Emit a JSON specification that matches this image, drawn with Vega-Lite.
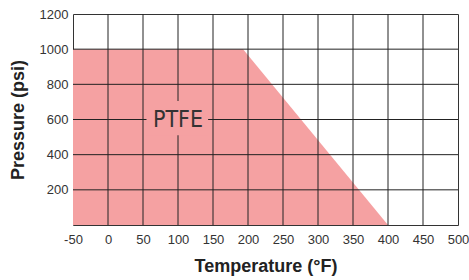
{
  "$schema": "https://vega.github.io/schema/vega-lite/v6.json",
  "width": 385,
  "height": 211,
  "autosize": {"type": "none"},
  "padding": {"left": 73, "top": 14, "right": 11, "bottom": 55},
  "background": "white",
  "config": {
    "view": {"stroke": "#333", "strokeWidth": 1},
    "axis": {
      "labelFont": "Liberation Sans",
      "labelFontSize": 13,
      "labelColor": "#333",
      "titleFont": "Liberation Sans",
      "titleFontSize": 18,
      "titleFontWeight": "bold",
      "titleColor": "#222",
      "ticks": false,
      "domain": false,
      "grid": false,
      "labelOverlap": false,
      "format": "d"
    },
    "axisX": {
      "labelExpr": "replace(datum.label, '−', '-')",
      "labelFlush": false,
      "labelBound": false,
      "labelPadding": 8,
      "titleX": 192.5,
      "titleY": 46,
      "titleBaseline": "alphabetic"
    },
    "axisY": {
      "labelPadding": 5,
      "titleX": -55,
      "titleY": 105.5,
      "titleBaseline": "middle",
      "titleAngle": -90
    }
  },
  "datasets": {
    "area": [
      {"temperature": -50, "pressure": 1000},
      {"temperature": 193, "pressure": 1000},
      {"temperature": 400, "pressure": 0}
    ],
    "xgrid": [
      {"t": 0}, {"t": 50}, {"t": 100}, {"t": 150}, {"t": 200},
      {"t": 250}, {"t": 300}, {"t": 350}, {"t": 400}, {"t": 450}
    ],
    "ygrid": [
      {"p": 200}, {"p": 400}, {"p": 600}, {"p": 800}, {"p": 1000}
    ],
    "label": [
      {"name": "PTFE", "x": 100, "y": 600, "x0": 55, "x1": 143, "y0": 510, "y1": 705}
    ]
  },
  "layer": [
    {
      "data": {"name": "area"},
      "mark": {"type": "area", "color": "#F5A1A2", "opacity": 1},
      "encoding": {
        "x": {
          "field": "temperature", "type": "quantitative",
          "scale": {"domain": [-50, 500], "nice": false, "zero": false},
          "axis": {"title": "Temperature (°F)", "labelOverlap": false, "values": [-50, 0, 50, 100, 150, 200, 250, 300, 350, 400, 450, 500]}
        },
        "y": {
          "field": "pressure", "type": "quantitative",
          "scale": {"domain": [0, 1200], "nice": false},
          "axis": {"title": "Pressure (psi)", "labelOverlap": false, "values": [200, 400, 600, 800, 1000, 1200]}
        }
      }
    },
    {
      "data": {"name": "xgrid"},
      "mark": {"type": "rule", "color": "#222", "strokeWidth": 1},
      "encoding": {"x": {"field": "t", "type": "quantitative", "axis": {"title": "Temperature (°F)", "labelOverlap": false, "values": [-50, 0, 50, 100, 150, 200, 250, 300, 350, 400, 450, 500]}}}
    },
    {
      "data": {"name": "ygrid"},
      "mark": {"type": "rule", "color": "#222", "strokeWidth": 1},
      "encoding": {"y": {"field": "p", "type": "quantitative", "axis": {"title": "Pressure (psi)", "labelOverlap": false, "values": [200, 400, 600, 800, 1000, 1200]}}}
    },
    {
      "data": {"name": "label"},
      "mark": {"type": "rect", "color": "#F5A1A2"},
      "encoding": {
        "x": {"field": "x0", "type": "quantitative", "axis": {"title": "Temperature (°F)", "labelOverlap": false, "values": [-50, 0, 50, 100, 150, 200, 250, 300, 350, 400, 450, 500]}},
        "x2": {"field": "x1"},
        "y": {"field": "y0", "type": "quantitative", "axis": {"title": "Pressure (psi)", "labelOverlap": false, "values": [200, 400, 600, 800, 1000, 1200]}},
        "y2": {"field": "y1"}
      }
    },
    {
      "data": {"name": "label"},
      "mark": {"type": "text", "font": "DejaVu Sans Condensed, Liberation Sans", "fontSize": 23, "color": "#333", "baseline": "middle", "align": "center"},
      "encoding": {
        "x": {"field": "x", "type": "quantitative", "axis": {"title": "Temperature (°F)", "labelOverlap": false, "values": [-50, 0, 50, 100, 150, 200, 250, 300, 350, 400, 450, 500]}},
        "y": {"field": "y", "type": "quantitative", "axis": {"title": "Pressure (psi)", "labelOverlap": false, "values": [200, 400, 600, 800, 1000, 1200]}},
        "text": {"field": "name"}
      }
    }
  ]
}
